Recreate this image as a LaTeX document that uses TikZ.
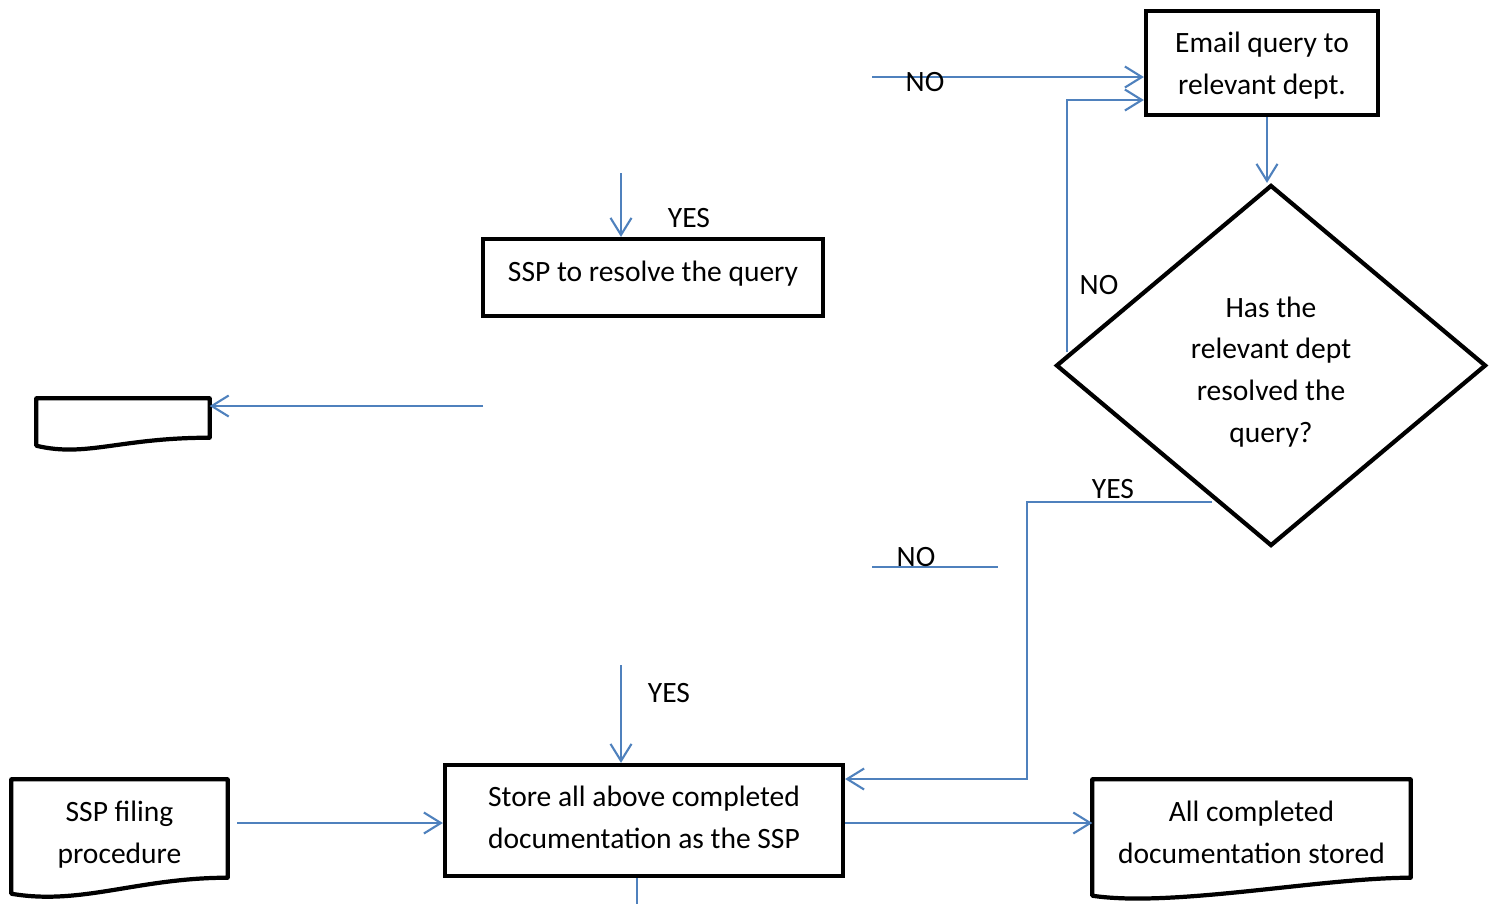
\documentclass[tikz,border=0pt]{standalone}
\usepackage{fontspec}
\setmainfont{Carlito}
\usetikzlibrary{arrows.meta,shapes.geometric}
\definecolor{flowblue}{RGB}{79,129,189}
% lower the lines of a node text without changing the node size
\newcommand\lowtext[2]{\raisebox{-#1}[\height][\depth]{\begin{tabular}{@{}c@{}}#2\end{tabular}}}
\begin{document}
\begin{tikzpicture}[
    font=\fontsize{8.4}{11.9}\selectfont,
    box/.style={draw, line width=1.2pt, align=center, inner sep=0pt},
    docbox/.style={align=center, inner sep=0pt},
    flow/.style={draw=flowblue, line width=0.6pt, -{Straight Barb[length=1.7mm,width=2.1mm]}},
    plain/.style={draw=flowblue, line width=0.6pt},
    lbl/.style={inner sep=0pt}
    ]

    \useasboundingbox (0,0) rectangle (14.98,-9.03);

    % wavy bottom of a document shape
    \def\docoutline#1#2#3{%
        \draw[line width=1.2pt, line join=round] (#1.south west) -- (#1.north west) -- (#1.north east) -- (#1.south east)
            .. controls +(-0.9,0) and +(#3,-0.12) .. ([yshift=-#2]#1.south west) -- cycle;}

    %boxes:
    \node[box, minimum width=2.32cm, minimum height=1.04cm] (email) at (12.62,-0.63) {\lowtext{0.02cm}{Email query to\\relevant dept.}};
    \node[box, diamond, minimum width=4.30cm, minimum height=3.61cm, aspect=1.2] (dept) at (12.71,-3.655) {\lowtext{0.06cm}{Has the\\relevant dept\\resolved the\\query?}};
    \node[box, minimum width=3.40cm, minimum height=0.77cm] (resolve) at (6.53,-2.775) {\lowtext{-0.04cm}{SSP to resolve the query}};
    \node[box, minimum width=3.98cm, minimum height=1.11cm] (store) at (6.44,-8.205) {\lowtext{-0.015cm}{Store all above completed\\documentation as the SSP}};

    %documents:
    \node[docbox, minimum width=1.72cm, minimum height=0.38cm] (blank) at (1.23,-4.18) {};
    \node[docbox, minimum width=2.15cm, minimum height=0.97cm] (filing) at (1.195,-8.285) {\lowtext{0.055cm}{SSP filing\\procedure}};
    \node[docbox, minimum width=3.17cm, minimum height=0.97cm] (stored) at (12.515,-8.285) {\lowtext{0.055cm}{All completed\\documentation stored}};
    \docoutline{blank}{0.08cm}{0.5}
    \docoutline{filing}{0.16cm}{0.7}
    \docoutline{stored}{0.18cm}{0.8}

    %free ends:
    \coordinate (noin) at (8.72,-0.77);
    \coordinate (deptleft) at (10.67,-3.52);
    \coordinate (yestop) at (6.21,-1.73);
    \coordinate (leftin) at (4.83,-4.06);
    \coordinate (deptyes) at (12.12,-5.02);
    \coordinate (noleft) at (8.72,-5.67);
    \coordinate (noright) at (9.98,-5.67);
    \coordinate (yesbot) at (6.21,-6.65);
    \coordinate (fileout) at (2.37,-8.23);

    %connectors:
    \draw[flow] (noin) -- (noin -| email.west);
    \draw[flow] (deptleft) |- ([yshift=-0.37cm]email.west);
    \draw[flow] ([xshift=0.05cm]email.south) -- ([xshift=0.05cm]email.south |- dept.north);
    \draw[flow] (yestop) -- (yestop |- resolve.north);
    \draw[flow] (leftin) -- (leftin -| blank.east);
    \draw[flow] (deptyes) -- ++(-1.85,0) |- ([yshift=0.415cm]store.east);
    \draw[plain] (noleft) -- (noright);
    \draw[flow] (yesbot) -- (yesbot |- store.north);
    \draw[flow] (fileout) -- (fileout -| store.west);
    \draw[flow] ([yshift=-0.025cm]store.east) -- ([yshift=-0.025cm]store.east -| stored.west);
    \draw[plain] ([xshift=-0.07cm]store.south) -- ++(0,-0.30);

    %labels:
    \node[lbl] (notop) at (9.25,-0.82) {NO};
    \node[lbl] (noloop) at (10.99,-2.85) {NO};
    \node[lbl] (yesone) at (6.89,-2.18) {YES};
    \node[lbl] (yesdept) at (11.13,-4.89) {YES};
    \node[lbl] (nolow) at (9.16,-5.57) {NO};
    \node[lbl] (yestwo) at (6.69,-6.93) {YES};

\end{tikzpicture}
\end{document}
